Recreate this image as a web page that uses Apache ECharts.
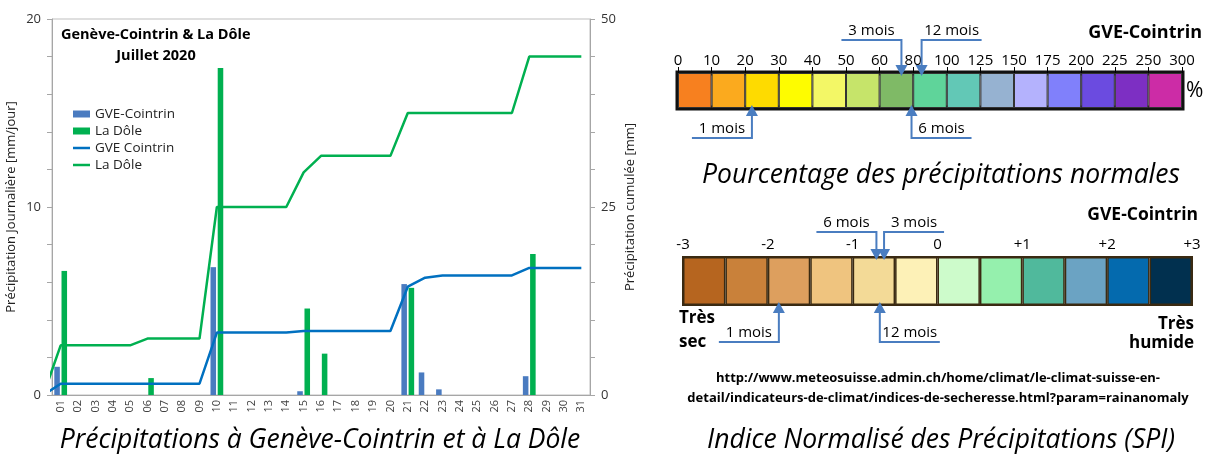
<!DOCTYPE html>
<html>
<head>
<meta charset="utf-8">
<script src="https://cdn.jsdelivr.net/npm/echarts@6.0.0/dist/echarts.min.js"></script>
<style>
  html, body { margin: 0; padding: 0; background: #fff; }
  #chart { width: 1207px; height: 454px; }
</style>
</head>
<body>
<div id="chart"></div>
<script>
// --- data ---
const days = ['01', '02', '03', '04', '05', '06', '07', '08', '09', '10', '11', '12', '13', '14', '15', '16',
  '17', '18', '19', '20', '21', '22', '23', '24', '25', '26', '27', '28', '29', '30', '31']
const gveDaily = [1.5, 0, 0, 0, 0, 0, 0, 0, 0, 6.8, 0, 0, 0, 0, 0.2, 0, 0, 0, 0, 0, 5.9, 1.2, 0.3, 0, 0, 0, 0, 1.0, 0, 0, 0]
const doleDaily = [6.6, 0, 0, 0, 0, 0.9, 0, 0, 0, 17.4, 0, 0, 0, 0, 4.6, 2.2, 0, 0, 0, 0, 5.7, 0, 0, 0, 0, 0, 0, 7.5, 0, 0, 0]
// cumulative, index 0 = 30 June
const gveCumul = [0, 1.5, 1.5, 1.5, 1.5, 1.5, 1.5, 1.5, 1.5, 1.5, 8.3, 8.3, 8.3, 8.3, 8.3, 8.5, 8.5,
  8.5, 8.5, 8.5, 8.5, 14.4, 15.6, 15.9, 15.9, 15.9, 15.9, 15.9, 16.9, 16.9, 16.9, 16.9]
const doleCumul = [0, 6.6, 6.6, 6.6, 6.6, 6.6, 7.5, 7.5, 7.5, 7.5, 25.0, 25.0, 25.0, 25.0, 25.0, 29.6, 31.8,
  31.8, 31.8, 31.8, 31.8, 37.5, 37.5, 37.5, 37.5, 37.5, 37.5, 37.5, 45.0, 45.0, 45.0, 45.0]
const leftTickLabels = [0, 10, 20]
const rightTickLabels = [0, 25, 50]

const pctTicks = ['0', '10', '20', '30', '40', '50', '60', '80', '100', '125', '150', '175', '200', '225', '250', '300']
const pctColors = ['#f7801f', '#fbaa1e', '#fedb00', '#fefc00', '#f3f766', '#c6e46a', '#7fba66', '#5fd49a',
  '#62c8b6', '#96b2d1', '#b4b2fd', '#8080fb', '#6b4be0', '#7d2fc3', '#cc2ca6']
const pctArrowAt = [6.65, 7.25, 2.2, 6.95] // position along the scale, in segments
const pctArrowText = ['3 mois', '12 mois', '1 mois', '6 mois']

const spiTicks = ['-3', '-2', '-1', '0', '+1', '+2', '+3']
const spiColors = ['#b6651f', '#c9813a', '#dd9f5e', '#efc47f', '#f3da97', '#fdf1b7', '#cdfbcb', '#95f0ad',
  '#50b99c', '#6ba3c3', '#046aae', '#01304f']
const spiArrowAt = [-0.72, -0.63, -1.87, -0.68]
const spiArrowText = ['6 mois', '3 mois', '1 mois', '12 mois']

// --- layout only ---
const FONT = '"Open Sans", "Noto Sans", sans-serif'
const pctArrowSide = ['top', 'top', 'bottom', 'bottom']
const pctArrowDir = [-1, 1, -1, 1]
const spiArrowSide = ['top', 'top', 'bottom', 'bottom']
const spiArrowDir = [-1, 1, -1, 1]
const ARROW = '#4a7dc0'
const LINE_ICON = 'path://M0,0 L34,0 L34,5 L0,5 Z'

function arrowRender (sides, dirs, texts, rise) {
  return function (params, api) {
    const i = api.value(1)
    const top = sides[i] === 'top'
    const p = api.coord([api.value(0), top ? 1 : 0])
    const x = p[0]
    const tipY = top ? p[1] + 3 : p[1] - 3
    const elbowY = top ? p[1] - rise.top : p[1] + rise.bottom
    const endX = x + dirs[i] * rise.len
    const head = top ? -11 : 11
    return {
      type: 'group',
      children: [
        {
          type: 'polyline',
          shape: { points: [[endX, elbowY], [x, elbowY], [x, tipY + head]] },
          style: { stroke: ARROW, lineWidth: 2, fill: null }
        },
        {
          type: 'polygon',
          shape: { points: [[x - 6, tipY + head], [x + 6, tipY + head], [x, tipY]] },
          style: { fill: ARROW }
        },
        {
          type: 'text',
          style: {
            text: texts[i], x: (x + endX) / 2, y: elbowY - 2,
            align: 'center', verticalAlign: 'bottom', textAlign: 'center', textVerticalAlign: 'bottom',
            fontSize: 15, fontFamily: FONT, fill: '#000'
          }
        }
      ]
    }
  }
}

function txt (x, y, text, opts) {
  const style = Object.assign({ text: text, fill: '#000', fontFamily: FONT, fontSize: 14, align: 'left', verticalAlign: 'middle' }, opts)
  style.textAlign = style.align
  style.textVerticalAlign = style.verticalAlign
  return { type: 'text', x: x, y: y, style: style }
}

const myChart = echarts.init(document.getElementById('chart'))
myChart.setOption({
  animation: false,
  grid: [
    { left: 52, top: 19, width: 538, height: 376, show: true, borderColor: '#bfbfbf', borderWidth: 1 },
    { left: 678, top: 73, width: 504, height: 35, show: true, borderColor: '#111', borderWidth: 5 },
    { left: 683, top: 257, width: 509, height: 48, show: true, borderColor: '#3a2a12', borderWidth: 2 }
  ],
  legend: {
    orient: 'vertical',
    left: 68,
    top: 102,
    itemWidth: 17,
    itemHeight: 7,
    itemGap: 3,
    textStyle: { fontFamily: FONT, fontSize: 13.5, color: '#222' },
    data: [
      { name: 'GVE-Cointrin', icon: 'rect' },
      { name: 'La Dôle', icon: 'rect' },
      { name: 'GVE Cointrin', icon: LINE_ICON },
      { name: 'La Dôle ', icon: LINE_ICON }
    ]
  },
  xAxis: [
    {
      type: 'category', gridIndex: 0, data: days,
      axisLine: { lineStyle: { color: '#a6a6a6' } },
      axisTick: { interval: 0, length: 5, lineStyle: { color: '#a6a6a6' } },
      axisLabel: { interval: 0, rotate: 90, fontSize: 11, fontFamily: FONT, color: '#404040', margin: 5 }
    },
    { type: 'value', gridIndex: 0, min: 0.5, max: 31.5, show: false },
    { type: 'category', gridIndex: 1, data: pctTicks.slice(1), show: false },
    {
      type: 'value', gridIndex: 1, position: 'top', min: 0, max: 15, interval: 1,
      axisLine: { show: false },
      axisTick: { show: true, length: 6, lineStyle: { color: '#000', width: 1 } },
      splitLine: { show: false },
      axisLabel: {
        formatter: v => pctTicks[Math.round(v)], fontSize: 15, fontFamily: FONT, color: '#000', margin: 5
      }
    },
    { type: 'category', gridIndex: 2, data: spiColors.map((c, i) => 's' + i), show: false },
    {
      type: 'value', gridIndex: 2, position: 'top', min: -3, max: 3, interval: 1,
      axisLine: { show: false },
      axisTick: { show: false },
      splitLine: { show: false },
      axisLabel: {
        formatter: v => spiTicks[Math.round(v) + 3], fontSize: 15, fontFamily: FONT, color: '#000', margin: 5
      }
    }
  ],
  yAxis: [
    {
      type: 'value', gridIndex: 0, min: 0, max: 20, interval: 2,
      name: 'Précipitation Journalière [mm/jour]', nameLocation: 'middle', nameRotate: 90, nameGap: 34,
      nameTextStyle: { fontFamily: FONT, fontSize: 13, color: '#222' },
      axisLine: { show: true, lineStyle: { color: '#a6a6a6' } },
      axisTick: { show: true, length: 5, lineStyle: { color: '#a6a6a6' } },
      splitLine: { show: false },
      axisLabel: {
        formatter: v => (leftTickLabels.includes(v) ? String(v) : ''),
        fontFamily: FONT, fontSize: 13, color: '#333', margin: 11
      }
    },
    {
      type: 'value', gridIndex: 0, position: 'right', min: 0, max: 50, interval: 5,
      name: 'Précipitation cumulée [mm]', nameLocation: 'middle', nameRotate: 90, nameGap: 34,
      nameTextStyle: { fontFamily: FONT, fontSize: 13, color: '#222' },
      axisLine: { show: true, lineStyle: { color: '#a6a6a6' } },
      axisTick: { show: true, length: 5, lineStyle: { color: '#a6a6a6' } },
      splitLine: { show: false },
      axisLabel: {
        formatter: v => (rightTickLabels.includes(v) ? String(v) : ''),
        fontFamily: FONT, fontSize: 13, color: '#333', margin: 11
      }
    },
    { type: 'value', gridIndex: 1, min: 0, max: 1, show: false },
    { type: 'value', gridIndex: 2, min: 0, max: 1, show: false }
  ],
  series: [
    {
      name: 'GVE-Cointrin', type: 'bar', xAxisIndex: 0, yAxisIndex: 0,
      barWidth: '32%', barGap: '30%',
      itemStyle: { color: '#4a7bc0' },
      data: gveDaily
    },
    {
      name: 'La Dôle', type: 'bar', xAxisIndex: 0, yAxisIndex: 0,
      barWidth: '32%', barGap: '30%',
      itemStyle: { color: '#00b050' },
      data: doleDaily
    },
    {
      name: 'GVE Cointrin', type: 'line', xAxisIndex: 1, yAxisIndex: 1,
      symbol: 'none', lineStyle: { width: 2.5, color: '#0070c0' }, itemStyle: { color: '#0070c0' },
      data: gveCumul.map((v, i) => [i, v])
    },
    {
      name: 'La Dôle ', type: 'line', xAxisIndex: 1, yAxisIndex: 1,
      symbol: 'none', lineStyle: { width: 2.5, color: '#00b050' }, itemStyle: { color: '#00b050' },
      data: doleCumul.map((v, i) => [i, v])
    },
    // percentage scale
    {
      type: 'bar', xAxisIndex: 2, yAxisIndex: 2, barCategoryGap: '0%', barWidth: '100%', silent: true,
      itemStyle: { borderColor: '#333', borderWidth: 1 },
      data: pctColors.map(c => ({ value: 1, itemStyle: { color: c } }))
    },
    {
      type: 'custom', xAxisIndex: 3, yAxisIndex: 2, clip: false, z: 10, silent: true,
      renderItem: arrowRender(pctArrowSide, pctArrowDir, pctArrowText, { top: 33, bottom: 30, len: 60 }),
      data: pctArrowAt.map((v, i) => [v, i])
    },
    // SPI scale
    {
      type: 'bar', xAxisIndex: 4, yAxisIndex: 3, barCategoryGap: '0%', barWidth: '100%', silent: true,
      itemStyle: { borderColor: '#3a2a12', borderWidth: 1.5 },
      data: spiColors.map(c => ({ value: 1, itemStyle: { color: c } }))
    },
    {
      type: 'custom', xAxisIndex: 5, yAxisIndex: 3, clip: false, z: 10, silent: true,
      renderItem: arrowRender(spiArrowSide, spiArrowDir, spiArrowText, { top: 25, bottom: 37, len: 60 }),
      data: spiArrowAt.map((v, i) => [v, i])
    }
  ],
  graphic: [
    txt(61, 35, 'Genève-Cointrin & La Dôle', { fontWeight: 'bold', fontSize: 14.5 }),
    txt(156, 56, 'Juillet 2020', { fontWeight: 'bold', fontSize: 14.5, align: 'center' }),
    txt(320, 440, 'Précipitations à Genève-Cointrin et à La Dôle', { fontStyle: 'italic', fontSize: 26.5, align: 'center' }),
    txt(1202, 33, 'GVE-Cointrin', { fontWeight: 'bold', fontSize: 18, align: 'right' }),
    txt(1186, 91, '%', { fontSize: 21 }),
    txt(941, 175, 'Pourcentage des précipitations normales', { fontStyle: 'italic', fontSize: 26.5, align: 'center' }),
    txt(1198, 215, 'GVE-Cointrin', { fontWeight: 'bold', fontSize: 17.5, align: 'right' }),
    txt(679, 330, 'Très\nsec', { fontWeight: 'bold', fontSize: 17, lineHeight: 24 }),
    txt(1194, 334, 'Très\nhumide', { fontWeight: 'bold', fontSize: 17, lineHeight: 19, align: 'right' }),
    txt(938, 388, 'http://www.meteosuisse.admin.ch/home/climat/le-climat-suisse-en-\ndetail/indicateurs-de-climat/indices-de-secheresse.html?param=rainanomaly',
      { fontWeight: 'bold', fontSize: 13, lineHeight: 20, align: 'center' }),
    txt(941, 440, 'Indice Normalisé des Précipitations (SPI)', { fontStyle: 'italic', fontSize: 26.5, align: 'center' })
  ]
})
window.addEventListener('resize', function () {
  myChart.resize()
})
</script>
</body>
</html>
